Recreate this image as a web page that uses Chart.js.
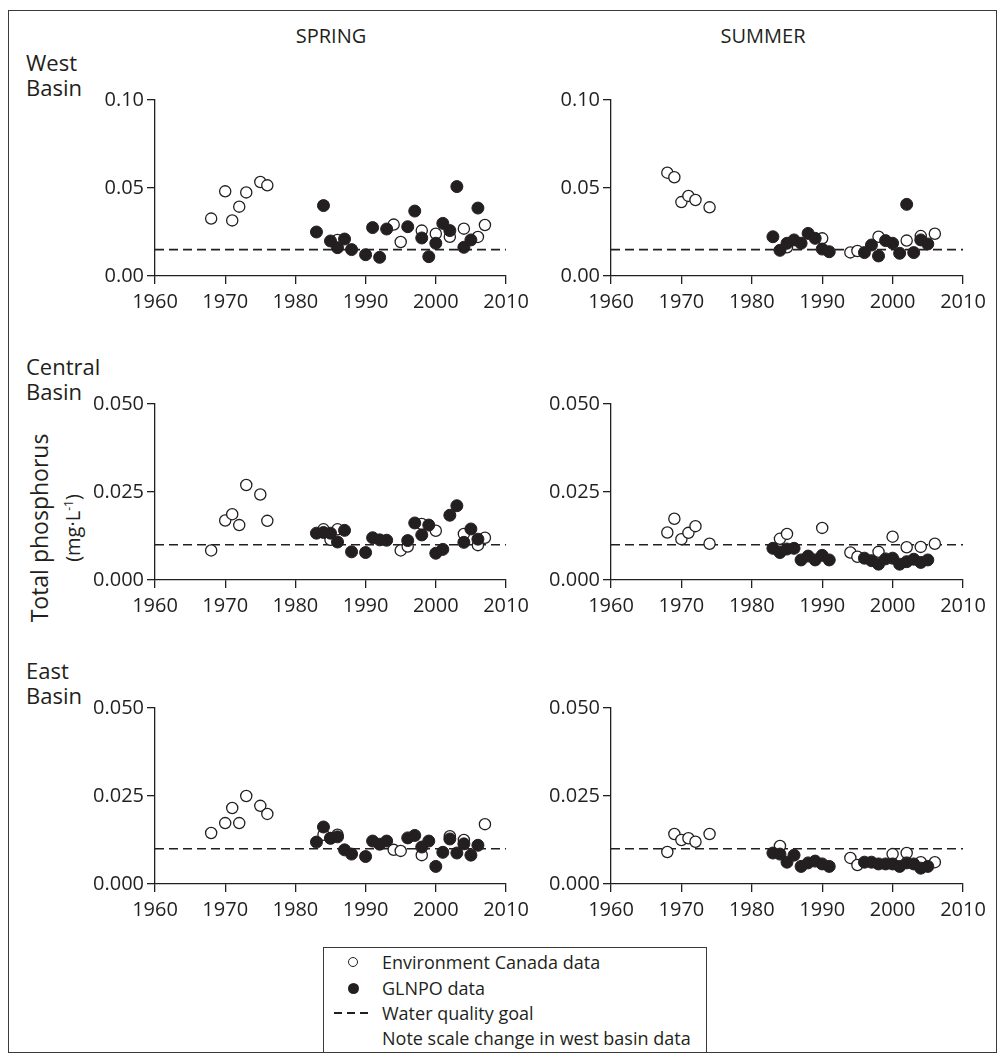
<!DOCTYPE html>
<html>
<head>
<meta charset="utf-8">
<script src="https://cdn.jsdelivr.net/npm/chart.js@4.4.0/dist/chart.umd.min.js"></script>
<style>
body { margin: 0; background: #fff; font-family: "Open Sans", sans-serif; color: #231f20; }
#page { position: relative; width: 1005px; height: 1061px; overflow: hidden; }
#frame { position: absolute; left: 8px; top: 10px; width: 989px; height: 1043px; border: 1.5px solid #3a3a3a; box-sizing: border-box; }
.txt { position: absolute; white-space: nowrap; }
.season { font-size: 20px; top: 22px; transform: translateX(-50%); }
.basin { font-size: 22px; line-height: 25px; left: 26px; }
#ylab { left: 57px; top: 528px; transform: translate(-50%, -50%) rotate(-90deg); text-align: center; line-height: 25px; }
canvas { position: absolute; }
#legend { position: absolute; left: 323px; top: 947px; width: 384px; height: 106px; border: 1.5px solid #3a3a3a; box-sizing: border-box; background: #fff; }
.row { position: absolute; left: 58px; font-size: 18px; line-height: 20px; }
.mk { position: absolute; }
.dash { position: absolute; top: 64px; width: 8px; height: 1.6px; background: #231f20; }
</style>
</head>
<body>
<div id="page">
  <div id="frame"></div>
  <div class="txt season" style="left:331px">SPRING</div>
  <div class="txt season" style="left:763px">SUMMER</div>
  <div class="txt basin" style="top:50px">West<br>Basin</div>
  <div class="txt basin" style="top:354px">Central<br>Basin</div>
  <div class="txt basin" style="top:658px">East<br>Basin</div>
  <div class="txt" id="ylab"><span style="font-size:23px">Total phosphorus</span><br><span style="font-size:20px">(mg·L<sup style="font-size:12px">-1</sup>)</span></div>

  <canvas id="c0"></canvas>
  <canvas id="c1"></canvas>
  <canvas id="c2"></canvas>
  <canvas id="c3"></canvas>
  <canvas id="c4"></canvas>
  <canvas id="c5"></canvas>

  <div id="legend">
    <div class="mk" style="left:24px;top:9px;width:8px;height:8px;border:1.2px solid #231f20;border-radius:50%"></div>
    <div class="row" style="top:4px">Environment Canada data</div>
    <div class="mk" style="left:24px;top:35px;width:11px;height:11px;background:#231f20;border-radius:50%"></div>
    <div class="row" style="top:30px">GLNPO data</div>
    <div class="dash" style="left:10px"></div>
    <div class="dash" style="left:23px"></div>
    <div class="dash" style="left:36px"></div>
    <div class="row" style="top:55px">Water quality goal</div>
    <div class="row" style="top:80px">Note scale change in west basin data</div>
  </div>
</div>

<script>
// West basin
const westSpringEcYears = [1968, 1970, 1971, 1972, 1973, 1975, 1976, 1986, 1994, 1995, 1998, 2000, 2002, 2004, 2006, 2007];
const westSpringEc = [0.0326, 0.0481, 0.0316, 0.0394, 0.0475, 0.0534, 0.0515, 0.0205, 0.0292, 0.0193, 0.0258, 0.0240, 0.0223, 0.0269, 0.0222, 0.0290];
const westSpringGlYears = [1983, 1984, 1985, 1986, 1987, 1988, 1990, 1991, 1992, 1993, 1996, 1997, 1998, 1999, 2000, 2001, 2002, 2003, 2004, 2005, 2006];
const westSpringGl = [0.0250, 0.0400, 0.0199, 0.0161, 0.0210, 0.0150, 0.0121, 0.0275, 0.0106, 0.0267, 0.0280, 0.0369, 0.0216, 0.0110, 0.0186, 0.0299, 0.0258, 0.0508, 0.0163, 0.0205, 0.0386];

const westSummerEcYears = [1968, 1969, 1970, 1971, 1972, 1974, 1985, 1990, 1994, 1995, 1998, 2002, 2004, 2006];
const westSummerEc = [0.0587, 0.0561, 0.0420, 0.0455, 0.0432, 0.0390, 0.0163, 0.0214, 0.0134, 0.0142, 0.0223, 0.0201, 0.0227, 0.0240];
const westSummerGlYears = [1983, 1984, 1985, 1986, 1987, 1988, 1989, 1990, 1991, 1996, 1997, 1998, 1999, 2000, 2001, 2002, 2003, 2004, 2005];
const westSummerGl = [0.0223, 0.0146, 0.0186, 0.0205, 0.0186, 0.0242, 0.0214, 0.0153, 0.0138, 0.0133, 0.0176, 0.0114, 0.0201, 0.0186, 0.0129, 0.0407, 0.0133, 0.0205, 0.0182];

// Central basin
const centralSpringEcYears = [1968, 1970, 1971, 1972, 1973, 1975, 1976, 1984, 1985, 1986, 1995, 1996, 1998, 2000, 2004, 2006, 2007];
const centralSpringEc = [0.0084, 0.0169, 0.0187, 0.0156, 0.0270, 0.0243, 0.0168, 0.0144, 0.0114, 0.0144, 0.0084, 0.0095, 0.0159, 0.0140, 0.0131, 0.0099, 0.0120];
const centralSpringGlYears = [1983, 1984, 1985, 1986, 1987, 1988, 1990, 1991, 1992, 1993, 1996, 1997, 1998, 1999, 2000, 2001, 2002, 2003, 2004, 2005, 2006];
const centralSpringGl = [0.0133, 0.0135, 0.0133, 0.0108, 0.0141, 0.0080, 0.0078, 0.0120, 0.0114, 0.0113, 0.0112, 0.0162, 0.0128, 0.0156, 0.0076, 0.0087, 0.0184, 0.0211, 0.0107, 0.0145, 0.0116];

const centralSummerEcYears = [1968, 1969, 1970, 1971, 1972, 1974, 1984, 1985, 1990, 1994, 1995, 1998, 2000, 2002, 2004, 2006];
const centralSummerEc = [0.0135, 0.0174, 0.0116, 0.0134, 0.0153, 0.0103, 0.0117, 0.0131, 0.0148, 0.0078, 0.0066, 0.0080, 0.0123, 0.0093, 0.0094, 0.0103];
const centralSummerGlYears = [1983, 1984, 1985, 1986, 1987, 1988, 1989, 1990, 1991, 1996, 1997, 1998, 1999, 2000, 2001, 2002, 2003, 2004, 2005];
const centralSummerGl = [0.0090, 0.0078, 0.0088, 0.0090, 0.0057, 0.0068, 0.0057, 0.0070, 0.0057, 0.0062, 0.0055, 0.0045, 0.0060, 0.0062, 0.0045, 0.0052, 0.0059, 0.0050, 0.0057];

// East basin
const eastSpringEcYears = [1968, 1970, 1971, 1972, 1973, 1975, 1976, 1984, 1985, 1986, 1994, 1995, 1998, 2002, 2004, 2007];
const eastSpringEc = [0.0145, 0.0173, 0.0216, 0.0173, 0.0250, 0.0222, 0.0199, 0.0140, 0.0130, 0.0140, 0.0097, 0.0094, 0.0082, 0.0136, 0.0125, 0.0170];
const eastSpringGlYears = [1983, 1984, 1985, 1986, 1987, 1988, 1990, 1991, 1992, 1993, 1996, 1997, 1998, 1999, 2000, 2001, 2002, 2003, 2004, 2005, 2006];
const eastSpringGl = [0.0119, 0.0162, 0.0130, 0.0134, 0.0097, 0.0085, 0.0078, 0.0122, 0.0113, 0.0122, 0.0131, 0.0138, 0.0105, 0.0122, 0.0050, 0.0090, 0.0128, 0.0088, 0.0114, 0.0082, 0.0110];

const eastSummerEcYears = [1968, 1969, 1970, 1971, 1972, 1974, 1984, 1994, 1995, 2000, 2002, 2004, 2006];
const eastSummerEc = [0.0091, 0.0142, 0.0125, 0.0130, 0.0120, 0.0142, 0.0108, 0.0074, 0.0054, 0.0085, 0.0088, 0.0062, 0.0062];
const eastSummerGlYears = [1983, 1984, 1985, 1986, 1987, 1988, 1989, 1990, 1991, 1996, 1997, 1998, 1999, 2000, 2001, 2002, 2003, 2004, 2005];
const eastSummerGl = [0.0088, 0.0085, 0.0062, 0.0082, 0.0050, 0.0060, 0.0065, 0.0057, 0.0050, 0.0062, 0.0062, 0.0057, 0.0057, 0.0057, 0.0050, 0.0060, 0.0057, 0.0045, 0.0050];

const westGoal = 0.015;
const otherGoal = 0.010;
const xTicks = [1960, 1970, 1980, 1990, 2000, 2010];
const westTicks = [0.00, 0.05, 0.10];
const otherTicks = [0.000, 0.025, 0.050];

const ink = '#231f20';

const pairs = (xs, ys) => xs.map((x, i) => ({ x: x, y: ys[i] }));

const panels = [
    { ec: pairs(westSpringEcYears, westSpringEc), gl: pairs(westSpringGlYears, westSpringGl), goal: westGoal, ticks: westTicks, dec: 2 },
    { ec: pairs(westSummerEcYears, westSummerEc), gl: pairs(westSummerGlYears, westSummerGl), goal: westGoal, ticks: westTicks, dec: 2 },
    { ec: pairs(centralSpringEcYears, centralSpringEc), gl: pairs(centralSpringGlYears, centralSpringGl), goal: otherGoal, ticks: otherTicks, dec: 3 },
    { ec: pairs(centralSummerEcYears, centralSummerEc), gl: pairs(centralSummerGlYears, centralSummerGl), goal: otherGoal, ticks: otherTicks, dec: 3 },
    { ec: pairs(eastSpringEcYears, eastSpringEc), gl: pairs(eastSpringGlYears, eastSpringGl), goal: otherGoal, ticks: otherTicks, dec: 3 },
    { ec: pairs(eastSummerEcYears, eastSummerEc), gl: pairs(eastSummerGlYears, eastSummerGl), goal: otherGoal, ticks: otherTicks, dec: 3 }
];

// plot area edges on the page
const colLeft = [155, 611];
const colRight = [506, 963];
const rowTop = [100, 404, 708];
const rowBottom = [276, 580, 884];
const padL = 75, padT = 15, padR = 30, padB = 40;

panels.forEach((p, i) => {
    const col = i % 2, row = Math.floor(i / 2);
    const w = colRight[col] - colLeft[col] + padL + padR;
    const h = rowBottom[row] - rowTop[row] + padT + padB;
    const cv = document.getElementById('c' + i);
    cv.width = w;
    cv.height = h;
    cv.style.left = (colLeft[col] - padL) + 'px';
    cv.style.top = (rowTop[row] - padT) + 'px';

    new Chart(cv, {
        type: 'scatter',
        data: {
            datasets: [{
                data: p.gl,
                pointStyle: 'circle',
                pointRadius: 6,
                backgroundColor: ink,
                borderColor: ink,
                borderWidth: 1
            }, {
                data: p.ec,
                pointStyle: 'circle',
                pointRadius: 5.6,
                backgroundColor: '#ffffff',
                borderColor: ink,
                borderWidth: 1.3
            }, {
                type: 'line',
                data: [{ x: xTicks[0], y: p.goal }, { x: xTicks[xTicks.length - 1], y: p.goal }],
                borderColor: ink,
                borderWidth: 1.6,
                borderDash: [9, 5],
                pointRadius: 0,
                fill: false
            }]
        },
        options: {
            responsive: false,
            animation: false,
            devicePixelRatio: 1,
            layout: { padding: { left: 0, top: padT, right: padR, bottom: 0 } },
            plugins: { legend: { display: false }, tooltip: { enabled: false } },
            scales: {
                x: {
                    type: 'linear',
                    min: xTicks[0],
                    max: xTicks[xTicks.length - 1],
                    afterBuildTicks: s => { s.ticks = xTicks.map(v => ({ value: v })); },
                    afterFit: s => { s.height = padB; s.paddingLeft = 0; s.paddingRight = 0; },
                    ticks: {
                        color: ink,
                        padding: 6,
                        maxRotation: 0,
                        autoSkip: false,
                        font: { family: 'Open Sans', size: 20 },
                        callback: v => String(v)
                    },
                    grid: { drawOnChartArea: false, drawTicks: true, tickLength: 8, color: ink, lineWidth: 1.3 },
                    border: { display: true, color: ink, width: 1.3 }
                },
                y: {
                    type: 'linear',
                    min: p.ticks[0],
                    max: p.ticks[p.ticks.length - 1],
                    afterBuildTicks: s => { s.ticks = p.ticks.map(v => ({ value: v })); },
                    afterFit: s => { s.width = padL; s.paddingTop = 0; s.paddingBottom = 0; },
                    ticks: {
                        color: ink,
                        padding: 3,
                        autoSkip: false,
                        font: { family: 'Open Sans', size: 20 },
                        callback: v => Number(v).toFixed(p.dec)
                    },
                    grid: { drawOnChartArea: false, drawTicks: true, tickLength: 8, color: ink, lineWidth: 1.3 },
                    border: { display: true, color: ink, width: 1.3 }
                }
            }
        }
    });
});
</script>
</body>
</html>
